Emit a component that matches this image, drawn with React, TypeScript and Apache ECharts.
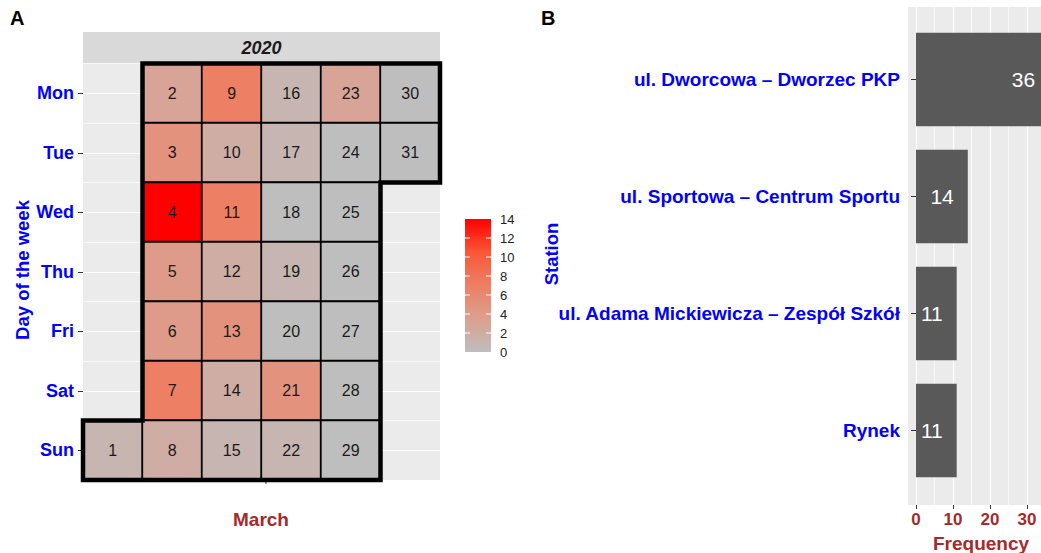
import React, { useEffect, useRef } from "react";
import * as echarts from "echarts";

const weekdays = ["Mon", "Tue", "Wed", "Thu", "Fri", "Sat", "Sun"];
const weeks = ["W1", "W2", "W3", "W4", "W5", "W6"];
const monthLabel = "March";
const yearLabel = "2020";
// counts per day of March 2020 (day 1..31)
const dayCounts = [1, 3, 5, 14, 4, 4, 7, 2, 7, 2, 7, 2, 5, 2, 1, 1, 1, 0, 1, 0, 5, 1, 3, 0, 0, 0, 0, 0, 0, 0, 0];
const firstWeekdayIndex = 6; // 1 March 2020 is a Sunday (Mon = 0)
const stations = [
  "ul. Dworcowa – Dworzec PKP",
  "ul. Sportowa – Centrum Sportu",
  "ul. Adama Mickiewicza – Zespół Szkół",
  "Rynek",
];
const frequencies = [36, 14, 11, 11];
const legendTicks = [2, 4, 6, 8, 10, 12];
const legendMax = 14;
const scaleColors = ["#BEBEBE", "#DBA090", "#ED7F64", "#F95738", "#FF0000"];

const FONT = "'Liberation Sans', Arial, sans-serif";
const BLUE = "#0000FF";
const BROWN = "#A52A2A";

export default function App() {
  const ref = useRef<HTMLDivElement>(null);

  useEffect(() => {
    if (!ref.current) return;
    const chart = echarts.init(ref.current, undefined, { renderer: "svg" });

    const heat = dayCounts.map((v, i) => {
      const pos = firstWeekdayIndex + i;
      return [Math.floor(pos / 7), pos % 7, v, i + 1];
    });
    const first = heat[0];
    const last = heat[heat.length - 1];
    const firstRow = first[1] as number;
    const lastCol = last[0] as number;
    const lastRow = last[1] as number;
    const outlinePts = [
      [0, firstRow],
      [1, firstRow],
      [1, 0],
      [lastCol + 1, 0],
      [lastCol + 1, lastRow + 1],
      [lastCol, lastRow + 1],
      [lastCol, weekdays.length],
      [0, weekdays.length],
    ];

    const gridBase = { outerBoundsMode: "none", containLabel: false };

    const option: any = {
      animation: false,
      textStyle: { fontFamily: FONT },
      grid: [
        { ...gridBase, left: 83, top: 63.5, width: 357, height: 416.5, show: true, backgroundColor: "#EBEBEB", borderWidth: 0 },
        { ...gridBase, left: 908, top: 7, width: 133, bottom: 48, show: true, backgroundColor: "#EBEBEB", borderWidth: 0 },
        { ...gridBase, left: 916, top: 7, width: 148, bottom: 48 },
        { ...gridBase, left: 916, top: 21, width: 148, bottom: 64 },
        { ...gridBase, left: 465, top: 219, width: 26, height: 133 },
      ],
      xAxis: [
        { gridIndex: 0, type: "category", data: weeks, show: false },
        { gridIndex: 1, type: "value", show: false },
        {
          gridIndex: 2,
          type: "value",
          min: 0,
          max: 40,
          interval: 10,
          axisLine: { show: false },
          axisTick: { show: true, length: 4, lineStyle: { color: "#333333", width: 1 } },
          axisLabel: { color: BROWN, fontSize: 17, fontWeight: "bold", margin: 6, showMaxLabel: false, fontFamily: FONT },
          splitLine: { show: true, lineStyle: { color: "#FFFFFF", width: 1.2 } },
          minorTick: { show: false, splitNumber: 2 },
          minorSplitLine: { show: true, lineStyle: { color: "#FFFFFF", width: 0.6 } },
        },
        { gridIndex: 3, type: "value", min: 0, max: 40, show: false },
        { gridIndex: 4, type: "category", data: [""], show: false },
      ],
      yAxis: [
        {
          gridIndex: 0,
          type: "category",
          data: weekdays,
          inverse: true,
          axisLine: { show: false },
          axisTick: { show: true, length: 5, alignWithLabel: true, lineStyle: { color: "#333333" } },
          axisLabel: { color: BLUE, fontSize: 18, fontWeight: "bold", margin: 9, fontFamily: FONT },
          splitLine: { show: false },
        },
        {
          gridIndex: 0,
          type: "value",
          min: 0,
          max: 7,
          interval: 1,
          axisLine: { show: false },
          axisTick: { show: false },
          axisLabel: { show: false },
          splitLine: { show: true, lineStyle: { color: "#FFFFFF", width: 0.6 } },
          minorTick: { show: false, splitNumber: 2 },
          minorSplitLine: { show: true, lineStyle: { color: "#FFFFFF", width: 1.2 } },
        },
        { gridIndex: 1, type: "value", show: false },
        { gridIndex: 2, type: "value", show: false },
        {
          gridIndex: 3,
          type: "category",
          data: stations,
          inverse: true,
          offset: 8,
          axisLine: { show: false },
          axisTick: { show: true, length: 5, alignWithLabel: true, lineStyle: { color: "#333333" } },
          axisLabel: { color: BLUE, fontSize: 19, fontWeight: "bold", margin: 8, fontFamily: FONT },
          splitLine: { show: false },
        },
        {
          gridIndex: 4,
          type: "value",
          min: 0,
          max: legendMax,
          interval: 2,
          position: "right",
          axisLine: { show: false },
          axisTick: { show: false },
          axisLabel: { color: "#222222", fontSize: 13, margin: 9, fontFamily: FONT },
          splitLine: { show: false },
        },
      ],
      visualMap: {
        type: "continuous",
        show: false,
        min: 0,
        max: legendMax,
        dimension: 2,
        seriesIndex: 0,
        inRange: { color: scaleColors },
      },
      series: [
        {
          type: "heatmap",
          xAxisIndex: 0,
          yAxisIndex: 0,
          data: heat,
          itemStyle: { borderColor: "#000000", borderWidth: 1.8 },
          label: {
            show: true,
            formatter: (p: any) => String(p.data[3]),
            fontSize: 16,
            color: "#1A1A1A",
            fontFamily: FONT,
          },
          emphasis: { disabled: true },
        },
        {
          type: "custom",
          xAxisIndex: 0,
          yAxisIndex: 0,
          data: [[0, 0]],
          z: 10,
          silent: true,
          renderItem: (params: any, api: any) => {
            const c0 = api.coord([0, 0]);
            const s = api.size([1, 1]);
            const pts = outlinePts.map(([cx, ry]) => [c0[0] - s[0] / 2 + cx * s[0], c0[1] - s[1] / 2 + ry * s[1]]);
            return {
              type: "polygon",
              shape: { points: pts },
              style: { fill: "none", stroke: "#000000", lineWidth: 4.5, lineJoin: "miter" },
            };
          },
        },
        {
          type: "bar",
          xAxisIndex: 3,
          yAxisIndex: 4,
          data: frequencies,
          barWidth: "80%",
          itemStyle: { color: "#595959" },
          label: {
            show: true,
            position: "insideRight",
            distance: 14,
            color: "#FFFFFF",
            fontSize: 21,
            fontFamily: FONT,
          },
          emphasis: { disabled: true },
        },
        {
          type: "bar",
          xAxisIndex: 4,
          yAxisIndex: 5,
          data: [legendMax],
          barWidth: "100%",
          itemStyle: {
            color: new echarts.graphic.LinearGradient(
              0,
              1,
              0,
              0,
              scaleColors.map((c, i) => ({ offset: i / (scaleColors.length - 1), color: c }))
            ),
          },
          emphasis: { disabled: true },
        },
        {
          type: "custom",
          xAxisIndex: 4,
          yAxisIndex: 5,
          data: legendTicks.map((v) => [0, v]),
          z: 5,
          silent: true,
          renderItem: (params: any, api: any) => {
            const p = api.coord([0, api.value(1)]);
            const w = api.size([1, 0])[0];
            const l = p[0] - w / 2;
            const r = p[0] + w / 2;
            return {
              type: "group",
              children: [
                { type: "line", shape: { x1: l, y1: p[1], x2: l + 5, y2: p[1] }, style: { stroke: "#FFFFFF", lineWidth: 1 } },
                { type: "line", shape: { x1: r - 5, y1: p[1], x2: r, y2: p[1] }, style: { stroke: "#FFFFFF", lineWidth: 1 } },
              ],
            };
          },
        },
      ],
      graphic: [
        { type: "text", left: 10, top: 8, style: { text: "A", fontSize: 20, fontWeight: "bold", fill: "#000", fontFamily: FONT } },
        { type: "text", left: 541, top: 8, style: { text: "B", fontSize: 20, fontWeight: "bold", fill: "#000", fontFamily: FONT } },
        { type: "rect", shape: { x: 83, y: 32, width: 357, height: 31.5 }, style: { fill: "#D9D9D9" }, z: -1 },
        {
          type: "text",
          x: 261.5,
          y: 48,
          style: { text: yearLabel, fontSize: 18, fontWeight: "bold", fontStyle: "italic", fill: "#1A1A1A", align: "center", verticalAlign: "middle", fontFamily: FONT },
        },
        {
          type: "text",
          x: 22,
          y: 270,
          rotation: Math.PI / 2,
          style: { text: "Day of the week", fontSize: 18.5, fontWeight: "bold", fill: BLUE, align: "center", verticalAlign: "middle", fontFamily: FONT },
        },
        {
          type: "text",
          x: 551,
          y: 254,
          rotation: Math.PI / 2,
          style: { text: "Station", fontSize: 18.5, fontWeight: "bold", fill: BLUE, align: "center", verticalAlign: "middle", fontFamily: FONT },
        },
        {
          type: "text",
          x: 261,
          y: 519,
          style: { text: monthLabel, fontSize: 19, fontWeight: "bold", fill: BROWN, align: "center", verticalAlign: "middle", fontFamily: FONT },
        },
        {
          type: "text",
          x: 981,
          y: 543,
          style: { text: "Frequency", fontSize: 19, fontWeight: "bold", fill: BROWN, align: "center", verticalAlign: "middle", fontFamily: FONT },
        },
        { type: "line", shape: { x1: 266, y1: 480, x2: 266, y2: 484 }, style: { stroke: "#333333", lineWidth: 1 } },
      ],
    };

    chart.setOption(option);
    return () => chart.dispose();
  }, []);

  return (
    <div
      ref={ref}
      style={{ position: "fixed", left: 0, top: 0, width: 1041, height: 553, background: "#FFFFFF" }}
    />
  );
}
